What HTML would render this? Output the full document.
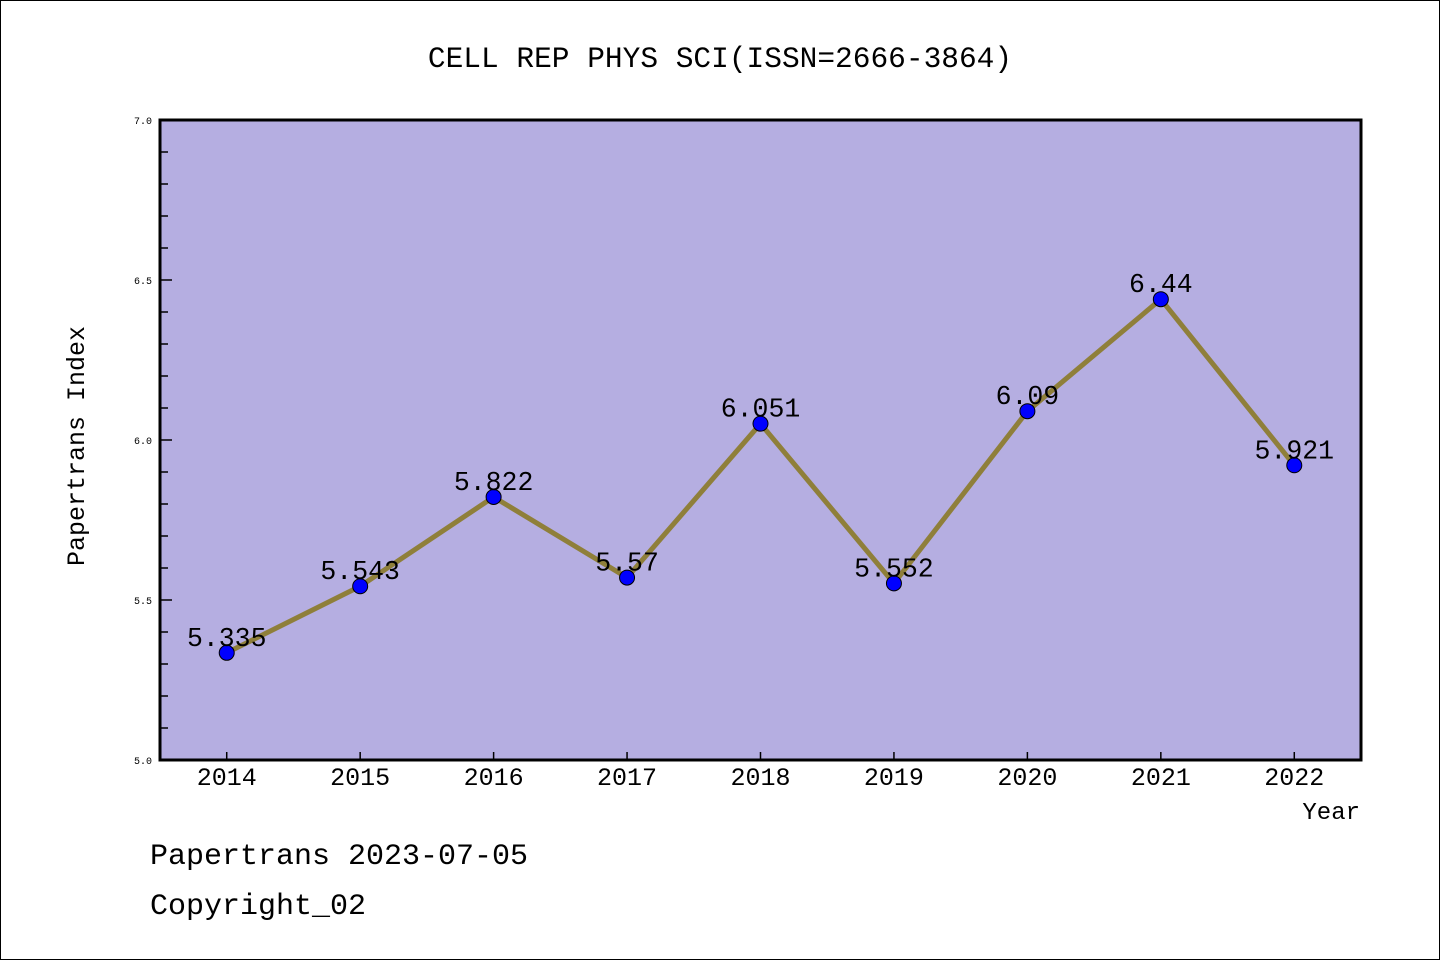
<!DOCTYPE html>
<html><head><meta charset="utf-8"><style>
html,body{margin:0;padding:0;background:#fff}
svg{display:block}
text{font-family:"Liberation Mono","Noto Sans CJK SC",monospace;fill:#000}
</style></head><body>
<svg id="chart" width="1440" height="960" xmlns="http://www.w3.org/2000/svg">
<rect x="0.5" y="0.5" width="1439" height="959" fill="#fff" stroke="#000"/>
<text x="720" y="67" font-size="29.5" text-anchor="middle">CELL REP PHYS SCI(ISSN=2666-3864)</text>
<rect x="160" y="120" width="1201" height="640" fill="#b5aee1"/>
<g id="yticks"></g><g id="xticks"></g>
<polyline id="line" fill="none" stroke="#8f7f3a" stroke-width="5" stroke-linejoin="round"/>
<g id="points"></g><g id="labels"></g>
<rect x="160" y="120" width="1201" height="640" fill="none" stroke="#000" stroke-width="3"/>
<text transform="translate(84,446) rotate(-90)" font-size="25" text-anchor="middle">Papertrans Index</text>
<text x="1360" y="819" font-size="24" text-anchor="end">Year</text>
<text x="150" y="864" font-size="30">Papertrans 2023-07-05</text>
<text x="150" y="914" font-size="30">Copyright_02</text>
</svg>
<script>
const categories=["2014","2015","2016","2017","2018","2019","2020","2021","2022"];
const values=[5.335,5.543,5.822,5.57,6.051,5.552,6.09,6.44,5.921];
const valueLabels=["5.335","5.543","5.822","5.57","6.051","5.552","6.09","6.44","5.921"];
const yTicks=[5.0,5.5,6.0,6.5,7.0];
const yTickLabels=["5.0","5.5","6.0","6.5","7.0"];
const yMin=5.0,yMax=7.0;
const NS="http://www.w3.org/2000/svg";
const L=160,R=1361,T=120,B=760;
const bw=(R-L)/categories.length;
const x=i=>L+bw*(i+0.5);
const y=v=>B-(v-yMin)/(yMax-yMin)*(B-T);
function mk(t,a,p){const e=document.createElementNS(NS,t);for(const k in a)e.setAttribute(k,a[k]);p.appendChild(e);return e;}
const yt=document.getElementById('yticks');
for(let v=yMin;v<=yMax+1e-9;v+=0.1){
  const major=Math.abs(v*2-Math.round(v*2))<1e-6;
  const tk=mk('line',{x1:L,x2:L+(major?12:8),y1:y(v),y2:y(v),stroke:'#000','stroke-width':1.5},yt);
  
  
}
yTicks.forEach((v,i)=>{
  const t=mk('text',{x:L-8,y:y(v)+4,'font-size':10,'text-anchor':'end'},yt);
  t.textContent=yTickLabels[i];
  
  
});
const xt=document.getElementById('xticks');
categories.forEach((c,i)=>{
  const tk=mk('line',{x1:x(i),x2:x(i),y1:B,y2:B-8,stroke:'#000','stroke-width':1.5},xt);
  
  
  const t=mk('text',{x:x(i),y:785,'font-size':25,'text-anchor':'middle'},xt);
  t.textContent=c;
  
  
});
document.getElementById('line').setAttribute('points',values.map((v,i)=>x(i)+','+y(v)).join(' '));
const pg=document.getElementById('points'),lg=document.getElementById('labels');
values.forEach((v,i)=>{
  const c=mk('circle',{cx:x(i),cy:y(v),r:7.5,fill:'#0000ff',stroke:'#000','stroke-width':1},pg);
  
  
  const t=mk('text',{x:x(i),y:y(v)-7,'font-size':26.5,'text-anchor':'middle'},lg);
  t.textContent=valueLabels[i];
  
  
});
</script>
</body></html>
